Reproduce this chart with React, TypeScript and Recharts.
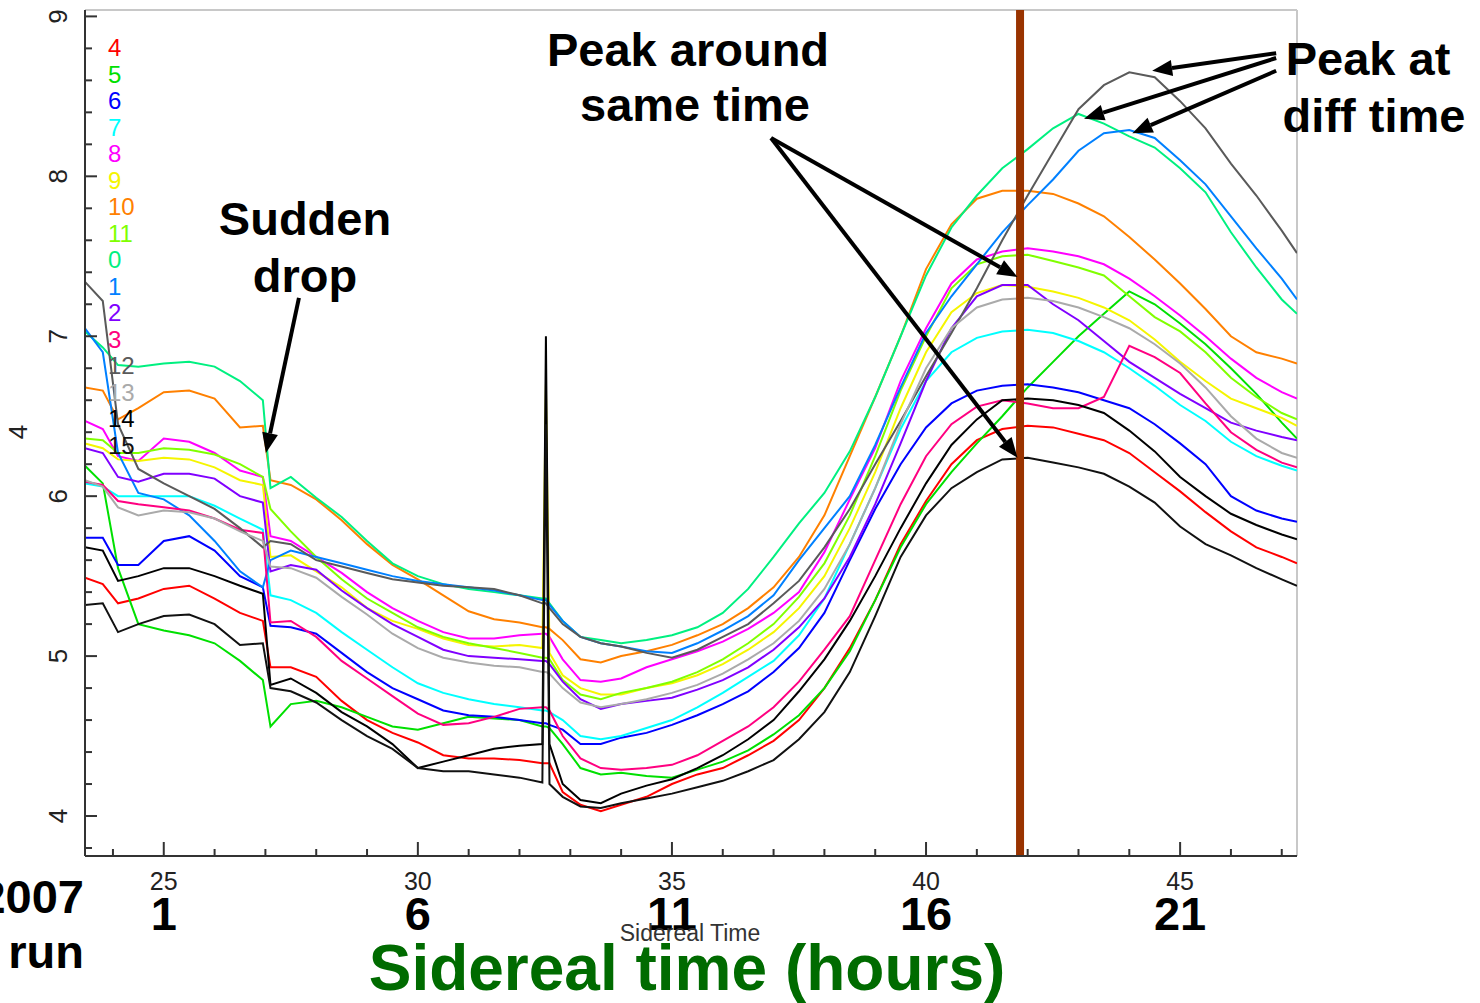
import { LineChart, Line, XAxis, YAxis, ReferenceLine, Legend } from 'recharts';

// sidereal time sample points (shared by every channel)
const X = [
  23.45, 23.8, 24.1, 24.5, 25, 25.5, 26, 26.5, 26.95, 27.1,
  27.5, 28, 28.5, 29, 29.5, 30, 30.5, 31, 31.5, 32,
  32.45, 32.52, 32.59,
  32.85, 33.2, 33.6, 34, 34.5, 35, 35.5, 36, 36.5, 37,
  37.5, 38, 38.5, 39, 39.5, 40, 40.5, 41, 41.5, 42,
  42.5, 43, 43.5, 44, 44.5, 45, 45.5, 46, 46.5, 47, 47.3,
];

const CH4 = [
  5.49, 5.45, 5.33, 5.36, 5.42, 5.44, 5.36, 5.27, 5.22, 4.93,
  4.93, 4.87, 4.72, 4.6, 4.52, 4.46, 4.38, 4.36, 4.36, 4.35,
  4.33, 4.33, 4.33,
  4.15, 4.07, 4.03, 4.07, 4.12, 4.2, 4.26, 4.3, 4.38, 4.47,
  4.6, 4.8, 5.05, 5.35, 5.7, 5.97, 6.2, 6.35, 6.42, 6.44,
  6.43, 6.39, 6.35, 6.27, 6.15, 6.03, 5.9, 5.78, 5.68, 5.62, 5.58,
];
const CH5 = [
  6.19, 6.08, 5.55, 5.2, 5.16, 5.13, 5.08, 4.97, 4.85, 4.56,
  4.7, 4.72, 4.68, 4.62, 4.56, 4.54, 4.58, 4.62, 4.61, 4.6,
  4.56, 4.56, 4.55,
  4.45, 4.3, 4.26, 4.27, 4.25, 4.24, 4.29, 4.34, 4.41, 4.51,
  4.63, 4.8, 5.03, 5.35, 5.68, 5.95, 6.15, 6.33, 6.5, 6.68,
  6.84, 7.0, 7.14, 7.28, 7.2, 7.08, 6.95, 6.8, 6.64, 6.46, 6.36,
];
const CH6 = [
  5.74, 5.74, 5.57, 5.57, 5.72, 5.75, 5.66, 5.5, 5.43, 5.19,
  5.18, 5.14, 5.02, 4.9, 4.8, 4.73, 4.66, 4.63, 4.62, 4.6,
  4.58, 4.58, 4.57,
  4.54, 4.45, 4.45, 4.49, 4.52, 4.57, 4.63, 4.7, 4.78, 4.9,
  5.05, 5.27, 5.6, 5.92, 6.2, 6.43, 6.58, 6.66, 6.69, 6.7,
  6.68, 6.65, 6.6, 6.55, 6.45, 6.33, 6.2, 6.0, 5.91, 5.86, 5.84,
];
const CH7 = [
  6.08, 6.06, 6.0, 6.0, 6.0, 6.0, 5.94, 5.86, 5.79, 5.38,
  5.35, 5.27, 5.15, 5.04, 4.93, 4.83, 4.77, 4.73, 4.7, 4.68,
  4.66, 4.66, 4.65,
  4.6, 4.5, 4.48, 4.5, 4.55, 4.6, 4.68, 4.77, 4.87, 4.97,
  5.13, 5.36, 5.7, 6.05, 6.42, 6.72, 6.9, 6.99, 7.03, 7.04,
  7.02, 6.97, 6.9, 6.8, 6.69, 6.57, 6.47, 6.34, 6.25, 6.19, 6.16,
];
const CH8 = [
  6.47, 6.42, 6.25, 6.22, 6.36, 6.34, 6.27, 6.16, 6.12, 5.75,
  5.72, 5.62, 5.52, 5.4, 5.3, 5.22, 5.15, 5.11, 5.11, 5.13,
  5.14, 5.14, 5.12,
  4.98, 4.85, 4.84, 4.86, 4.93, 4.98, 5.03, 5.09, 5.17, 5.27,
  5.4, 5.65, 5.98, 6.3, 6.72, 7.05, 7.33, 7.48, 7.53, 7.55,
  7.53, 7.5, 7.45, 7.36, 7.25, 7.13, 7.0, 6.86, 6.74, 6.65, 6.61,
];
const CH9 = [
  6.33, 6.3, 6.23, 6.22, 6.24, 6.23, 6.18, 6.1, 6.07, 5.62,
  5.63, 5.53, 5.43, 5.3, 5.22, 5.17, 5.11, 5.07, 5.06, 5.07,
  5.05, 6.7, 5.02,
  4.88, 4.8, 4.76, 4.76, 4.8, 4.83, 4.88, 4.95, 5.04, 5.15,
  5.3, 5.5, 5.8, 6.15, 6.55, 6.9, 7.15, 7.27, 7.32, 7.31,
  7.28, 7.24, 7.18, 7.1, 6.98, 6.84, 6.72, 6.61, 6.55, 6.49, 6.44,
];
const CH10 = [
  6.68, 6.66, 6.48, 6.55, 6.65, 6.66, 6.61, 6.43, 6.44, 6.1,
  6.07, 5.98, 5.85, 5.7, 5.57, 5.48, 5.38, 5.28, 5.23, 5.21,
  5.18, 5.18, 5.17,
  5.1, 4.98, 4.96, 5.0, 5.03, 5.07, 5.13, 5.2, 5.3, 5.43,
  5.62, 5.88, 6.25, 6.62, 7.0, 7.42, 7.7, 7.86, 7.91, 7.91,
  7.89, 7.83, 7.75, 7.62, 7.48, 7.33, 7.17, 7.0, 6.9, 6.86, 6.83,
];
const CH11 = [
  6.36, 6.35, 6.27, 6.27, 6.3, 6.29, 6.26, 6.2, 6.12, 5.92,
  5.78, 5.62, 5.48, 5.36, 5.27, 5.18, 5.12, 5.08, 5.05, 5.02,
  4.99, 4.99, 4.98,
  4.85, 4.76, 4.73, 4.77, 4.8, 4.84, 4.9, 4.98, 5.08, 5.2,
  5.37, 5.58, 5.88, 6.25, 6.66, 7.0, 7.3, 7.45, 7.5, 7.51,
  7.47, 7.43, 7.38, 7.25, 7.12, 7.03, 6.9, 6.74, 6.62, 6.52, 6.48,
];
const CH0 = [
  7.03, 6.93, 6.82, 6.81, 6.83, 6.84, 6.81, 6.72, 6.6, 6.05,
  6.12, 5.99, 5.87, 5.72, 5.58, 5.5, 5.45, 5.42, 5.4, 5.38,
  5.36, 5.36, 5.33,
  5.22, 5.12, 5.1, 5.08, 5.1, 5.13, 5.18, 5.27, 5.42, 5.62,
  5.83, 6.02, 6.28, 6.62, 7.0, 7.38, 7.68, 7.88, 8.05, 8.17,
  8.3, 8.39, 8.33, 8.25, 8.18, 8.05, 7.9, 7.65, 7.43, 7.23, 7.14,
];
const CH1 = [
  7.05, 6.9, 6.27, 6.02, 5.98, 5.88, 5.72, 5.53, 5.43, 5.6,
  5.66, 5.62, 5.58, 5.54, 5.5, 5.47, 5.45, 5.43, 5.41, 5.38,
  5.35, 5.35, 5.32,
  5.22, 5.12, 5.08, 5.06, 5.03, 5.02, 5.08, 5.16, 5.25, 5.38,
  5.6, 5.8, 6.0, 6.32, 6.68, 7.02, 7.25, 7.45, 7.65, 7.82,
  7.98, 8.16, 8.27, 8.29, 8.24, 8.1, 7.95, 7.75, 7.55, 7.36, 7.23,
];
const CH2 = [
  6.3, 6.27, 6.12, 6.09, 6.14, 6.14, 6.11, 6.0, 5.96, 5.53,
  5.57, 5.54, 5.41, 5.3, 5.2, 5.12, 5.04, 5.0, 4.99, 4.98,
  4.97, 4.97, 4.95,
  4.84, 4.73, 4.67, 4.7, 4.72, 4.74, 4.79, 4.85, 4.93, 5.04,
  5.18, 5.36, 5.62, 5.95, 6.33, 6.72, 7.05, 7.25, 7.32, 7.32,
  7.2, 7.1, 6.97, 6.84, 6.74, 6.64, 6.55, 6.46, 6.41, 6.37, 6.35,
];
const CH3 = [
  6.09, 6.07, 5.97, 5.95, 5.93, 5.91, 5.86, 5.79, 5.77, 5.21,
  5.22, 5.12, 4.97, 4.86, 4.75, 4.64, 4.57, 4.58, 4.62, 4.67,
  4.68, 4.68, 4.66,
  4.5, 4.36, 4.3, 4.29, 4.3, 4.32, 4.38, 4.47, 4.56, 4.68,
  4.84, 5.04, 5.25, 5.6, 5.95, 6.25, 6.45, 6.56, 6.6, 6.58,
  6.55, 6.55, 6.62, 6.94, 6.87, 6.77, 6.58, 6.4, 6.29, 6.21, 6.18,
];
const CH12 = [
  7.34, 7.22, 6.45, 6.17, 6.08, 6.0, 5.92, 5.8, 5.68, 5.72,
  5.7, 5.6, 5.56, 5.52, 5.48, 5.46, 5.44, 5.43, 5.42, 5.38,
  5.33, 5.33, 5.3,
  5.2, 5.12, 5.08, 5.06, 5.02, 4.99, 5.04, 5.12, 5.2, 5.33,
  5.47, 5.68, 5.92, 6.2, 6.47, 6.75, 7.02, 7.3, 7.6, 7.88,
  8.15, 8.42, 8.57, 8.65, 8.62, 8.47, 8.3, 8.08, 7.88, 7.66, 7.52,
];
const CH13 = [
  6.1, 6.06, 5.93, 5.88, 5.91, 5.9, 5.86, 5.78, 5.72, 5.56,
  5.55, 5.49, 5.37, 5.26, 5.14, 5.05, 4.99, 4.96, 4.94, 4.93,
  4.9, 4.9, 4.89,
  4.8, 4.71, 4.68, 4.7, 4.73, 4.77, 4.82, 4.89, 4.98, 5.08,
  5.22, 5.42, 5.7, 6.05, 6.45, 6.8, 7.05, 7.18, 7.23, 7.24,
  7.22, 7.18, 7.12, 7.05, 6.95, 6.83, 6.68, 6.5, 6.36, 6.27, 6.24,
];
const CH14 = [
  5.68, 5.66, 5.47, 5.5, 5.55, 5.55, 5.5, 5.44, 5.39, 4.82,
  4.86, 4.77, 4.65, 4.56, 4.45, 4.3, 4.34, 4.38, 4.42, 4.44,
  4.45, 7.0, 4.45,
  4.2, 4.1, 4.08, 4.14, 4.19, 4.23, 4.3, 4.38, 4.48, 4.6,
  4.78, 4.98, 5.22, 5.5, 5.8, 6.08, 6.32, 6.48, 6.6, 6.61,
  6.6, 6.57, 6.52, 6.41, 6.28, 6.12, 6.0, 5.89, 5.82, 5.76, 5.73,
];
const CH15 = [
  5.32, 5.33, 5.15, 5.2, 5.25, 5.26, 5.2, 5.07, 5.08, 4.8,
  4.78, 4.71, 4.6, 4.5, 4.42, 4.3, 4.28, 4.28, 4.26, 4.24,
  4.21, 6.45, 4.2,
  4.12, 4.06, 4.05, 4.08, 4.11, 4.14, 4.18, 4.22, 4.28, 4.35,
  4.48, 4.65, 4.9, 5.25, 5.62, 5.88, 6.05, 6.15, 6.23, 6.24,
  6.21, 6.18, 6.14, 6.06, 5.96, 5.81, 5.7, 5.63, 5.55, 5.48, 5.44,
];

const SERIES = [
  { key: 'c4', name: '4', color: '#ff0000', values: CH4 },
  { key: 'c5', name: '5', color: '#00e000', values: CH5 },
  { key: 'c6', name: '6', color: '#0000ff', values: CH6 },
  { key: 'c7', name: '7', color: '#00ffff', values: CH7 },
  { key: 'c8', name: '8', color: '#ff00ff', values: CH8 },
  { key: 'c9', name: '9', color: '#f5f500', values: CH9 },
  { key: 'c10', name: '10', color: '#ff8000', values: CH10 },
  { key: 'c11', name: '11', color: '#80ff00', values: CH11 },
  { key: 'c0', name: '0', color: '#00f080', values: CH0 },
  { key: 'c1', name: '1', color: '#0080ff', values: CH1 },
  { key: 'c2', name: '2', color: '#8000ff', values: CH2 },
  { key: 'c3', name: '3', color: '#ff0080', values: CH3 },
  { key: 'c12', name: '12', color: '#5a5a5a', values: CH12 },
  { key: 'c13', name: '13', color: '#aaaaaa', values: CH13 },
  { key: 'c14', name: '14', color: '#000000', values: CH14 },
  { key: 'c15', name: '15', color: '#111111', values: CH15 },
];

const X_TICKS = Array.from({ length: 24 }, (_, i) => 24 + i);
const Y_TICKS = Array.from({ length: 27 }, (_, i) => +(3.8 + 0.2 * i).toFixed(1));

const MARKER_X = 41.85;

// annotation arrows, in data coordinates
const ARROWS = [
  { from: { x: 27.66, y: 7.24 }, to: { x: 27.01, y: 6.27 } },
  { from: { x: 36.95, y: 8.24 }, to: { x: 41.8, y: 7.37 } },
  { from: { x: 36.95, y: 8.24 }, to: { x: 41.8, y: 6.24 } },
  { from: { x: 46.89, y: 8.77 }, to: { x: 44.45, y: 8.66 } },
  { from: { x: 46.89, y: 8.74 }, to: { x: 43.11, y: 8.36 } },
  { from: { x: 46.89, y: 8.66 }, to: { x: 44.06, y: 8.27 } },
];

const data = X.map((x, i) => {
  const row: Record<string, number> = { x };
  SERIES.forEach((s) => {
    row[s.key] = s.values[i];
  });
  return row;
});

const FONT = '"Liberation Sans", Arial, Helvetica, sans-serif';

function YTick(props: any) {
  const { x, y, payload } = props;
  const v = payload.value;
  const major = Math.abs(v - Math.round(v)) < 1e-6;
  const lx = x - 27;
  return (
    <g>
      <line x1={x} y1={y} x2={x + (major ? 12 : 7)} y2={y} stroke="#333" strokeWidth={2} />
      {major && (
        <text
          x={lx}
          y={y}
          transform={`rotate(-90 ${lx} ${y})`}
          textAnchor="middle"
          dominantBaseline="central"
          fontSize={26}
          fill="#222"
        >
          {v}
        </text>
      )}
    </g>
  );
}

function XTick(props: any) {
  const { x, y, payload } = props;
  const v = payload.value;
  const major = v % 5 === 0;
  return (
    <g>
      <line x1={x} y1={y} x2={x} y2={y - (major ? 14 : 7)} stroke="#333" strokeWidth={2} />
      {major && (
        <text x={x} y={y + 34} textAnchor="middle" fontSize={25} fill="#222">
          {v}
        </text>
      )}
      {major && (
        <text x={x} y={y + 74} textAnchor="middle" fontSize={47} fontWeight="bold" fill="#000">
          {v - 24}
        </text>
      )}
    </g>
  );
}

function Arrow(props: any) {
  const { x1, y1, x2, y2 } = props;
  const ang = Math.atan2(y2 - y1, x2 - x1);
  const len = 20;
  const half = 8;
  const bx = x2 - len * Math.cos(ang);
  const by = y2 - len * Math.sin(ang);
  const px = -Math.sin(ang) * half;
  const py = Math.cos(ang) * half;
  return (
    <g>
      <line x1={x1} y1={y1} x2={bx} y2={by} stroke="#000" strokeWidth={4} />
      <polygon points={`${x2},${y2} ${bx + px},${by + py} ${bx - px},${by - py}`} fill="#000" />
    </g>
  );
}

function ChannelLegend() {
  return (
    <div style={{ fontFamily: FONT, fontSize: 24, lineHeight: '26.5px' }}>
      {SERIES.map((s) => (
        <div key={s.key} style={{ color: s.color }}>
          {s.name}
        </div>
      ))}
    </div>
  );
}

export default function App() {
  return (
    <div
      style={{
        position: 'absolute',
        left: 0,
        top: 0,
        width: 1480,
        height: 1003,
        background: '#fff',
        fontFamily: FONT,
      }}
    >
      <LineChart
        width={1480}
        height={1003}
        data={data}
        margin={{ top: 10, right: 183, bottom: 87, left: 25 }}
        style={{ fontFamily: FONT }}
      >
        <XAxis
          dataKey="x"
          type="number"
          domain={[23.45, 47.3]}
          ticks={X_TICKS}
          interval={0}
          allowDataOverflow
          height={60}
          tickSize={0}
          tickMargin={0}
          tickLine={false}
          tick={<XTick />}
          axisLine={{ stroke: '#333', strokeWidth: 2 }}
        />
        <YAxis
          type="number"
          domain={[3.75, 9.04]}
          ticks={Y_TICKS}
          interval={0}
          allowDataOverflow
          width={60}
          tickSize={0}
          tickMargin={0}
          tickLine={false}
          tick={<YTick />}
          axisLine={{ stroke: '#333', strokeWidth: 2 }}
        />
        <ReferenceLine y={9.04} stroke="#c8c8c8" strokeWidth={2} />
        <ReferenceLine x={47.3} stroke="#c8c8c8" strokeWidth={2} />
        <Legend
          layout="vertical"
          align="center"
          verticalAlign="middle"
          wrapperStyle={{ left: 108, top: 35, width: 'auto', height: 'auto' }}
          content={<ChannelLegend />}
        />
        {SERIES.map((s) => (
          <Line
            key={s.key}
            dataKey={s.key}
            name={s.name}
            stroke={s.color}
            strokeWidth={2}
            dot={false}
            type="linear"
            isAnimationActive={false}
          />
        ))}
        <ReferenceLine x={MARKER_X} stroke="#993300" strokeWidth={8} />
        {ARROWS.map((a, i) => (
          <ReferenceLine
            key={`arrow-${i}`}
            segment={[a.from, a.to]}
            ifOverflow="visible"
            shape={(p: any) => <Arrow {...p} />}
          />
        ))}
      </LineChart>
      <svg
        width={1480}
        height={1003}
        style={{ position: 'absolute', left: 0, top: 0, pointerEvents: 'none' }}
      >
        <g fontWeight="bold" fontSize={47} fill="#000" textAnchor="middle">
          <text x={305} y={235}>Sudden</text>
          <text x={305} y={292}>drop</text>
          <text x={688} y={66}>Peak around</text>
          <text x={695} y={121}>same time</text>
          <text x={1368} y={75}>Peak at</text>
          <text x={1374} y={132}>diff time</text>
          <text x={84} y={913} textAnchor="end">2007</text>
          <text x={84} y={968} textAnchor="end">run</text>
        </g>
        <text x={690} y={941} textAnchor="middle" fontSize={23} fill="#333">
          Sidereal Time
        </text>
        <text x={687} y={990} textAnchor="middle" fontSize={64} fontWeight="bold" fill="#006b00">
          Sidereal time (hours)
        </text>
        <text
          x={18}
          y={432}
          transform="rotate(-90 18 432)"
          textAnchor="middle"
          dominantBaseline="central"
          fontSize={26}
          fill="#222"
        >
          4
        </text>
      </svg>
    </div>
  );
}
